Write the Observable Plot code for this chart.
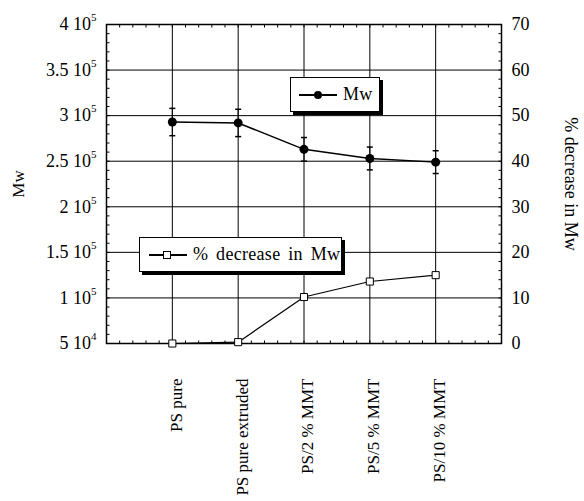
<!DOCTYPE html>
<html><head><meta charset="utf-8">
<script src="https://cdn.jsdelivr.net/npm/d3@7"></script>
<script src="https://cdn.jsdelivr.net/npm/@observablehq/plot@0.6"></script>
<style>
body{margin:0;background:#fff}
#wrap{position:relative;width:584px;height:501px;font-family:"Liberation Serif","Times New Roman",serif}
.legend{position:absolute;background:#fff;border:1px solid #000;box-shadow:3px 3px 0 #000;box-sizing:border-box;display:flex;align-items:center;font-size:18px;color:#000}
.legend svg{display:block}
</style>
</head><body>
<div id="wrap"></div>
<script>
const categories = ["PS pure", "PS pure extruded", "PS/2 % MMT", "PS/5 % MMT", "PS/10 % MMT"];
const mw = [293000, 292000, 263000, 253000, 249000];
const mwErr = [15000, 15000, 13000, 12500, 12500];
const pctDecrease = [0, 0.3, 10.2, 13.6, 15.0];
const mwTicks = [50000, 100000, 150000, 200000, 250000, 300000, 350000, 400000];
const mwTickLabels = ["5 10^4", "1 10^5", "1.5 10^5", "2 10^5", "2.5 10^5", "3 10^5", "3.5 10^5", "4 10^5"];
const pctTicks = [0, 10, 20, 30, 40, 50, 60, 70];

const toY = p => 50000 + p * 5000; // right axis (0–70 %) mapped onto the Mw scale
const xIdx = categories.map((c, i) => i + 1);
const rows = categories.map((c, i) => ({i: i + 1, mw: mw[i], lo: mw[i] - mwErr[i], hi: mw[i] + mwErr[i], pct: toY(pctDecrease[i])}));
const minorY = d3.range(50000, 400001, 10000);
const minorX = d3.range(0, 6.0001, 0.2);
const seg = (x1, y1, x2, y2) => ({draw(ctx) { ctx.moveTo(x1, y1); ctx.lineTo(x2, y2); }});
const labelMap = new Map(mwTicks.map((d, i) => [d, mwTickLabels[i]]));

const chart = Plot.plot({
  width: 584, height: 501,
  marginLeft: 106, marginRight: 83, marginTop: 24, marginBottom: 158,
  style: {fontFamily: "'Liberation Serif','Times New Roman',serif", fontSize: "17px", background: "white", color: "black", overflow: "visible"},
  x: {type: "linear", domain: [0, 6]},
  y: {domain: [50000, 400000]},
  marks: [
    Plot.gridY(mwTicks.slice(1, -1), {stroke: "black", strokeOpacity: 1, strokeWidth: 1}),
    Plot.gridX(xIdx, {stroke: "black", strokeOpacity: 1, strokeWidth: 1}),
    Plot.dot(minorY, {x: d => 0, y: d => d, symbol: seg(0, 0, 3, 0), stroke: "black", fill: "none", strokeWidth: 1}),
    Plot.dot(minorY, {x: d => 6, y: d => d, symbol: seg(0, 0, -3, 0), stroke: "black", fill: "none", strokeWidth: 1}),
    Plot.dot(minorX, {x: d => d, y: d => 50000, symbol: seg(0, 0, 0, -3), stroke: "black", fill: "none", strokeWidth: 1}),
    Plot.dot(minorX, {x: d => d, y: d => 400000, symbol: seg(0, 0, 0, 3), stroke: "black", fill: "none", strokeWidth: 1}),
    Plot.frame({stroke: "black", strokeWidth: 1.5}),
    Plot.axisY(mwTicks, {anchor: "left", tickSize: 0, tickPadding: 10, tickFormat: d => labelMap.get(d), label: null, fontSize: 18}),
    Plot.axisY(pctTicks.map(toY), {anchor: "right", tickSize: 0, tickPadding: 10, tickFormat: d => String(Math.round((d - 50000) / 5000)), label: null, fontSize: 18}),
    Plot.axisX(xIdx, {anchor: "bottom", tickSize: 0, tickPadding: 35, tickRotate: -90, tickFormat: d => categories[d - 1], label: null, fontSize: 17, dx: 4}),
    Plot.text(["Mw"], {frameAnchor: "left", dx: -88, rotate: -90, textAnchor: "middle", fontSize: 17}),
    Plot.text(["% decrease in Mw"], {frameAnchor: "right", dx: 69, rotate: 90, textAnchor: "middle", fontSize: 18}),
    Plot.line(rows, {x: "i", y: "pct", stroke: "black", strokeWidth: 1.2}),
    Plot.dot(rows, {x: "i", y: "pct", symbol: "square", r: 4, fill: "white", stroke: "black", strokeWidth: 1}),
    Plot.ruleX(rows, {x: "i", y1: "lo", y2: "hi", stroke: "black", strokeWidth: 1}),
    Plot.dot(rows, {x: "i", y: "lo", symbol: seg(-3, 0, 3, 0), stroke: "black", fill: "none"}),
    Plot.dot(rows, {x: "i", y: "hi", symbol: seg(-3, 0, 3, 0), stroke: "black", fill: "none"}),
    Plot.line(rows, {x: "i", y: "mw", stroke: "black", strokeWidth: 1.5}),
    Plot.dot(rows, {x: "i", y: "mw", r: 4.5, fill: "black"})
  ]
});

// superscript exponents on the left axis labels
d3.select(chart).selectAll("text").each(function() {
  const t = this.textContent;
  if (t.includes("^")) {
    const [base, exp] = t.split("^");
    const sel = d3.select(this);
    sel.text(null);
    sel.append("tspan").text(base);
    sel.append("tspan").attr("dy", "-9").attr("font-size", "11").text(exp);
  }
});

const wrap = document.getElementById("wrap");
wrap.appendChild(chart);

function legend(left, top, w, h, label, symbolSvg, lineStart) {
  const div = document.createElement("div");
  div.className = "legend";
  Object.assign(div.style, {left: left + "px", top: top + "px", width: w + "px", height: h + "px", paddingLeft: lineStart + "px"});
  div.innerHTML = `<svg width="40" height="14" viewBox="0 0 40 14">${symbolSvg}</svg><span style="margin-left:4px;word-spacing:3px;letter-spacing:0.3px">${label}</span>`;
  wrap.appendChild(div);
}
legend(290, 77, 90, 35, "Mw",
  `<line x1="0" y1="7" x2="38" y2="7" stroke="black" stroke-width="2"/><circle cx="19" cy="7" r="4" fill="black"/>`, 8);
legend(139, 237, 203, 35, "% decrease in Mw",
  `<line x1="0" y1="7" x2="38" y2="7" stroke="black" stroke-width="2"/><rect x="14.5" y="3.5" width="7" height="7" fill="white" stroke="black"/>`, 9);
</script>
</body></html>
